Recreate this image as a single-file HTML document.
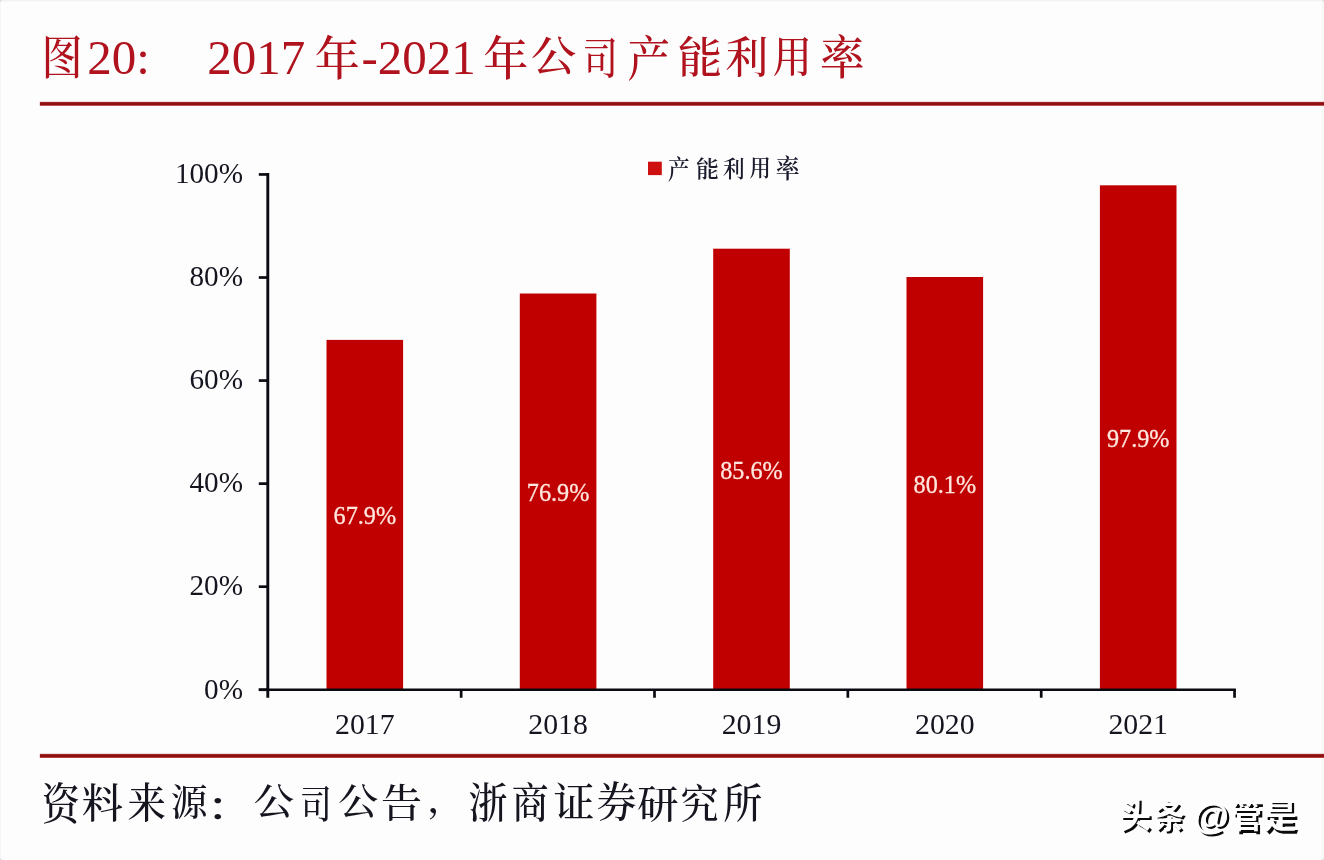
<!DOCTYPE html>
<html lang="zh-CN">
<head>
<meta charset="utf-8">
<title>图20: 2017年-2021年公司产能利用率</title>
<style>
html,body{margin:0;padding:0;background:#fdfdfe;}
body{width:1324px;height:860px;overflow:hidden;}
svg{display:block;}
text{font-family:"Liberation Serif", "Noto Serif CJK SC", serif;}
.t{fill:#b0131d;}
.k{fill:#15151f;}
.m{font-weight:500;}
.l{font-weight:600;fill:#1b1b2e;}
.w{font-family:"Liberation Sans", "Noto Sans CJK SC", sans-serif;}
</style>
</head>
<body>
<svg width="1324" height="860" viewBox="0 0 1324 860" lang="zh-CN">
<rect x="0" y="0" width="1324" height="860" fill="#fdfdfe"/>
<rect x="0" y="0" width="1324" height="1.5" fill="#f3f3f6"/>
<rect x="0" y="0" width="1" height="860" fill="#f7f7fa"/>
<rect x="1321.5" y="0" width="2.5" height="860" fill="#f8f8f7"/>
<path fill="#d4d4d9" d="M0 0H3A3 3 0 0 0 0 3ZM1324 0V3A3 3 0 0 0 1321 0ZM0 860V857A3 3 0 0 0 3 860ZM1324 860H1321A3 3 0 0 0 1324 857Z"/>
<text class="t m" font-size="46.16" transform="translate(41.58 73.75) scale(0.8908 1)">图</text>
<text class="t" x="87.2" y="73.6" font-size="49.0">20:</text>
<text class="t" x="207.3" y="73.6" font-size="49.0">2017</text>
<text class="t m" font-size="46.62" transform="translate(314.63 74.81) scale(0.9679 1)">年</text>
<text class="t" x="361.5" y="73.6" font-size="49.0">-2021</text>
<text class="t m" font-size="47.05" transform="translate(483.13 74.98) scale(0.9590 1)">年</text>
<text class="t m" font-size="41.88" transform="translate(531.04 70.75) scale(1.0800 1)">公</text>
<text class="t m" font-size="43.42" transform="translate(583.01 73.63) scale(0.8000 1)">司</text>
<text class="t m" font-size="47.91" transform="translate(627.56 75.52) scale(0.8907 1)">产</text>
<text class="t m" font-size="43.35" transform="translate(677.85 73.11) scale(1.0241 1)">能</text>
<text class="t m" font-size="43.00" transform="translate(725.45 73.09) scale(0.9946 1)">利</text>
<text class="t m" font-size="42.57" transform="translate(772.71 72.32) scale(0.9191 1)">用</text>
<text class="t m" font-size="46.65" transform="translate(819.93 74.31) scale(0.9559 1)">率</text>
<rect x="39.8" y="101.8" width="1284.2" height="4.0" fill="#c24646"/>
<rect x="40" y="102.4" width="1284.0" height="2.8" fill="#8e0f11"/>
<rect x="39.8" y="753.8" width="1284.2" height="4.1" fill="#c24646"/>
<rect x="40" y="754.4" width="1284.0" height="2.9" fill="#8e0f11"/>
<rect x="326.5" y="339.9" width="76.6" height="349.9" fill="#c00000"/>
<text x="364.8" y="524.4" font-size="24.2" text-anchor="middle" fill="#ffe6de" stroke="#ffe6de" stroke-width="0.3">67.9%</text>
<rect x="519.8" y="293.5" width="76.6" height="396.3" fill="#c00000"/>
<text x="558.1" y="501.2" font-size="24.2" text-anchor="middle" fill="#ffe6de" stroke="#ffe6de" stroke-width="0.3">76.9%</text>
<rect x="713.2" y="248.7" width="76.6" height="441.1" fill="#c00000"/>
<text x="751.5" y="478.8" font-size="24.2" text-anchor="middle" fill="#ffe6de" stroke="#ffe6de" stroke-width="0.3">85.6%</text>
<rect x="906.5" y="277.0" width="76.6" height="412.8" fill="#c00000"/>
<text x="944.8" y="493.0" font-size="24.2" text-anchor="middle" fill="#ffe6de" stroke="#ffe6de" stroke-width="0.3">80.1%</text>
<rect x="1099.9" y="185.3" width="76.6" height="504.5" fill="#c00000"/>
<text x="1138.2" y="447.1" font-size="24.2" text-anchor="middle" fill="#ffe6de" stroke="#ffe6de" stroke-width="0.3">97.9%</text>
<g stroke="#0a0a12" stroke-width="2.7" fill="none">
<path stroke-width="2.9" d="M267.80 173.10 V697.75"/>
<path stroke-width="2.7" d="M258.80 689.75 H1235.95"/>
<path d="M258.80 174.45 H267.80"/>
<path d="M258.80 277.51 H267.80"/>
<path d="M258.80 380.57 H267.80"/>
<path d="M258.80 483.63 H267.80"/>
<path d="M258.80 586.69 H267.80"/>
<path d="M258.80 689.75 H267.80"/>
<path d="M461.15 689.75 V697.75"/>
<path d="M654.50 689.75 V697.75"/>
<path d="M847.85 689.75 V697.75"/>
<path d="M1041.20 689.75 V697.75"/>
<path d="M1234.55 689.75 V697.75"/>
</g>
<text class="k" x="243" y="183.1" font-size="29.2" text-anchor="end">100%</text>
<text class="k" x="243" y="286.2" font-size="29.2" text-anchor="end">80%</text>
<text class="k" x="243" y="389.3" font-size="29.2" text-anchor="end">60%</text>
<text class="k" x="243" y="492.3" font-size="29.2" text-anchor="end">40%</text>
<text class="k" x="243" y="595.4" font-size="29.2" text-anchor="end">20%</text>
<text class="k" x="243" y="698.5" font-size="29.2" text-anchor="end">0%</text>
<text class="k" x="364.8" y="734.2" font-size="29.8" text-anchor="middle">2017</text>
<text class="k" x="558.1" y="734.2" font-size="29.8" text-anchor="middle">2018</text>
<text class="k" x="751.5" y="734.2" font-size="29.8" text-anchor="middle">2019</text>
<text class="k" x="944.8" y="734.2" font-size="29.8" text-anchor="middle">2020</text>
<text class="k" x="1138.2" y="734.2" font-size="29.8" text-anchor="middle">2021</text>
<rect x="648" y="161.7" width="13.8" height="13.4" fill="#cf1010"/>
<text class="l" font-size="26.21" transform="translate(668.12 178.68) scale(0.8244 1)">产</text>
<text class="l" font-size="22.92" transform="translate(696.09 177.16) scale(0.9976 1)">能</text>
<text class="l" font-size="23.19" transform="translate(722.92 177.11) scale(0.9336 1)">利</text>
<text class="l" font-size="22.41" transform="translate(749.59 176.47) scale(0.9551 1)">用</text>
<text class="l" font-size="25.76" transform="translate(775.80 178.22) scale(0.9250 1)">率</text>
<text class="k m" font-size="44.05" transform="translate(41.84 819.66) scale(0.8679 1)">资</text>
<text class="k m" font-size="40.96" transform="translate(81.71 818.30) scale(1.0107 1)">料</text>
<text class="k m" font-size="41.70" transform="translate(127.56 818.25) scale(0.9215 1)">来</text>
<text class="k m" font-size="37.51" transform="translate(170.64 816.07) scale(0.9816 1)">源</text>
<text class="k m" font-size="38.24" transform="translate(206.31 820.30) scale(1.2442 1)">：</text>
<text class="k m" font-size="37.45" transform="translate(253.86 815.18) scale(1.0800 1)">公</text>
<text class="k m" font-size="38.82" transform="translate(300.33 817.71) scale(0.8042 1)">司</text>
<text class="k m" font-size="37.31" transform="translate(337.98 815.13) scale(1.0800 1)">公</text>
<text class="k m" font-size="38.97" transform="translate(381.10 816.76) scale(1.0511 1)">告</text>
<text class="k m" font-size="34.39" transform="translate(427.32 812.26) scale(1.1022 1)">，</text>
<text class="k m" font-size="41.70" transform="translate(468.55 818.21) scale(0.9391 1)">浙</text>
<text class="k m" font-size="42.12" transform="translate(511.65 818.13) scale(0.8756 1)">商</text>
<text class="k m" font-size="40.77" transform="translate(553.47 817.18) scale(1.0053 1)">证</text>
<text class="k m" font-size="42.59" transform="translate(596.67 817.29) scale(0.9322 1)">券</text>
<text class="k m" font-size="38.99" transform="translate(637.19 817.58) scale(1.0584 1)">研</text>
<text class="k m" font-size="39.35" transform="translate(680.51 817.59) scale(0.9692 1)">究</text>
<text class="k m" font-size="40.56" transform="translate(723.29 818.17) scale(0.9644 1)">所</text>
<g class="w" font-weight="700" fill="#0b0b0b" transform="translate(0.0,0.0)">
<text class="w" font-size="33.98" transform="translate(1121.71 829.91) scale(0.9247 1)">头</text>
<text class="w" font-size="33.40" transform="translate(1155.86 830.26) scale(0.9282 1)">条</text>
<text class="w" font-size="36.40" transform="translate(1195.71 830.84) scale(1.0065 1)">@</text>
<text class="w" font-size="33.54" transform="translate(1233.13 830.55) scale(0.9292 1)">管</text>
<text class="w" font-size="33.74" transform="translate(1265.66 830.53) scale(0.9922 1)">是</text>
</g>
<g class="w" font-weight="700" fill="#fefefe" transform="translate(-2.2,-2.2)">
<text class="w" font-size="33.98" transform="translate(1121.71 829.91) scale(0.9247 1)">头</text>
<text class="w" font-size="33.40" transform="translate(1155.86 830.26) scale(0.9282 1)">条</text>
<text class="w" font-size="36.40" transform="translate(1195.71 830.84) scale(1.0065 1)">@</text>
<text class="w" font-size="33.54" transform="translate(1233.13 830.55) scale(0.9292 1)">管</text>
<text class="w" font-size="33.74" transform="translate(1265.66 830.53) scale(0.9922 1)">是</text>
</g>
</svg>
</body>
</html>
